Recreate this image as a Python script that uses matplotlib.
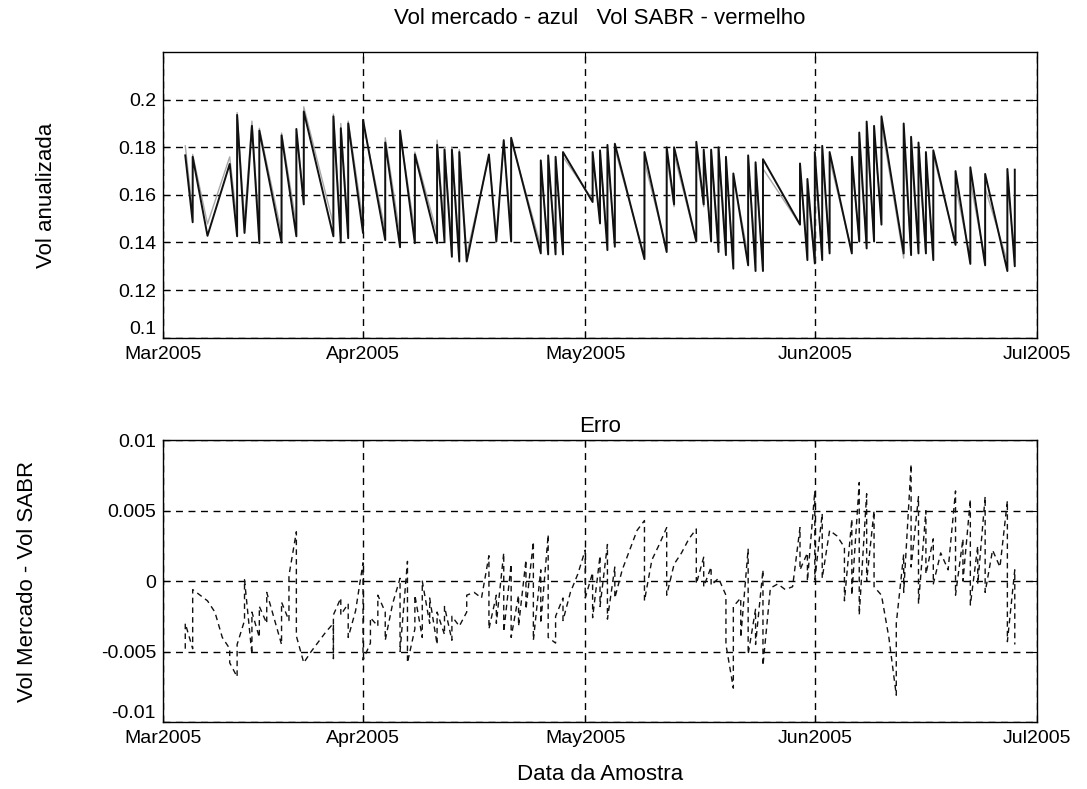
import matplotlib
matplotlib.use("Agg")
import matplotlib.pyplot as plt
import numpy as np
import pandas as pd

plt.rcParams['font.family'] = ['Liberation Sans', 'DejaVu Sans']

# dias contados a partir de 01/03/2005
top_days = [7, 8, 8, 10, 13, 14, 14, 15, 16, 17, 17, 20, 20, 22, 22, 23, 23, 27, 27, 28,
            28, 29, 29, 31, 31, 34, 34, 36, 36, 38, 38, 41, 41, 42, 42, 43, 43, 44, 44, 45,
            48, 49, 50, 51, 51, 55, 55, 56, 56, 57, 57, 58, 58, 62, 62, 63, 63, 64, 64, 65,
            65, 69, 69, 72, 72, 73, 73, 76, 76, 77, 77, 78, 78, 79, 79, 80, 80, 81, 81, 83,
            83, 84, 84, 85, 85, 90, 90, 91, 91, 92, 92, 93, 93, 94, 94, 97, 97, 98, 98, 99,
            99, 100, 100, 101, 101, 104, 104, 105, 105, 106, 106, 107, 107, 108, 108, 111, 111, 113, 113, 115,
            115, 118, 118, 119, 119]
vol_mkt = [0.1766, 0.1485, 0.1760, 0.1428, 0.1730, 0.1426, 0.1936, 0.1440, 0.1890, 0.1397,
           0.1870, 0.1400, 0.1850, 0.1426, 0.1877, 0.1560, 0.1950, 0.1426, 0.1930, 0.1400,
           0.1880, 0.1418, 0.1900, 0.1440, 0.1915, 0.1410, 0.1820, 0.1380, 0.1870, 0.1397,
           0.1770, 0.1397, 0.1810, 0.1404, 0.1790, 0.1340, 0.1790, 0.1320, 0.1780, 0.1320,
           0.1770, 0.1404, 0.1830, 0.1404, 0.1840, 0.1354, 0.1745, 0.1350, 0.1766, 0.1350,
           0.1760, 0.1350, 0.1780, 0.1570, 0.1780, 0.1480, 0.1787, 0.1368, 0.1810, 0.1382,
           0.1815, 0.1330, 0.1780, 0.1360, 0.1800, 0.1560, 0.1800, 0.1404, 0.1823, 0.1560,
           0.1790, 0.1404, 0.1790, 0.1360, 0.1800, 0.1347, 0.1760, 0.1290, 0.1690, 0.1304,
           0.1766, 0.1280, 0.1737, 0.1280, 0.1750, 0.1475, 0.1732, 0.1326, 0.1667, 0.1312,
           0.1780, 0.1326, 0.1806, 0.1354, 0.1780, 0.1354, 0.1760, 0.1404, 0.1862, 0.1375,
           0.1908, 0.1404, 0.1890, 0.1475, 0.1930, 0.1354, 0.1900, 0.1347, 0.1844, 0.1354,
           0.1820, 0.1354, 0.1780, 0.1326, 0.1787, 0.1390, 0.1700, 0.1310, 0.1716, 0.1304,
           0.1688, 0.1280, 0.1709, 0.1300, 0.1706]
# diferenca mercado - SABR em cada vertice do grafico de cima
dif_top = [-0.004, -0.004, -0.001, -0.005, -0.003, -0.006, -0.001, -0.005, -0.002, -0.004,
           -0.001, -0.004, -0.001, -0.005, 0.003, -0.004, -0.002, -0.005, -0.001, -0.003,
           -0.002, -0.004, -0.001, -0.005, 0.001, -0.004, -0.002, -0.005, 0.001, -0.005,
           -0.001, -0.004, -0.002, -0.004, -0.001, -0.003, -0.001, -0.004, -0.001, -0.003,
           0.001, -0.003, 0.002, -0.004, 0.001, -0.003, 0.003, -0.004, 0.002, -0.003,
           0.001, -0.002, 0.002, -0.001, 0.002, -0.002, 0.002, -0.003, 0.003, -0.001,
           0.002, -0.001, 0.004, -0.001, 0.004, 0.001, 0.003, 0.000, 0.004, 0.001,
           0.002, -0.001, 0.001, -0.004, 0.000, -0.006, 0.002, -0.003, 0.001, -0.004,
           0.002, -0.006, 0.001, -0.002, 0.004, 0.000, 0.002, -0.001, 0.006, -0.001,
           0.005, -0.001, 0.004, -0.002, 0.003, -0.001, 0.004, -0.002, 0.007, -0.002,
           0.006, -0.001, 0.005, -0.004, 0.003, 0.002, 0.008, -0.001, 0.006, -0.002,
           0.005, 0.000, 0.003, -0.001, 0.002, -0.001, 0.006, -0.002, 0.006, -0.002,
           0.006, -0.004, 0.006, -0.004, 0.005]
vol_sabr = np.array(vol_mkt) - np.array(dif_top)

err_days = [7, 7, 8, 8, 10, 11, 12, 13, 13, 14, 14, 15, 15, 16, 16, 17, 17, 18, 18, 20,
            20, 21, 21, 22, 22, 23, 24, 25, 26, 27, 27, 27, 28, 28, 29, 29, 30, 31, 31, 32,
            32, 33, 33, 34, 34, 35, 36, 36, 37, 37, 38, 38, 39, 39, 40, 40, 41, 41, 42, 42,
            43, 43, 44, 45, 45, 46, 47, 48, 48, 49, 49, 50, 50, 51, 51, 52, 52, 53, 53, 54,
            54, 55, 55, 56, 56, 57, 57, 58, 58, 59, 60, 61, 61, 62, 62, 63, 63, 64, 64, 65,
            65, 66, 67, 68, 69, 69, 70, 71, 72, 72, 73, 74, 75, 76, 76, 77, 77, 78, 78, 79,
            80, 80, 81, 81, 82, 82, 83, 83, 84, 84, 85, 85, 86, 87, 88, 89, 90, 90, 91, 91,
            92, 92, 93, 93, 94, 95, 96, 96, 97, 97, 98, 98, 99, 99, 100, 100, 101, 102, 103, 103,
            104, 104, 105, 105, 106, 106, 107, 107, 108, 108, 109, 110, 111, 111, 112, 112, 113, 113, 114, 114,
            115, 115, 116, 117, 118, 118, 119, 119]
err_vals = [-0.0048, -0.0030, -0.0048, -0.0006, -0.0014, -0.0022, -0.0040, -0.0048, -0.0058, -0.0068,
            -0.0045, -0.0028, 0.0001, -0.0052, -0.0022, -0.0040, -0.0018, -0.0030, -0.0008, -0.0045,
            -0.0015, -0.0028, 0.0004, 0.0035, -0.0039, -0.0058, -0.0050, -0.0043, -0.0036, -0.0030,
            -0.0055, -0.0024, -0.0012, -0.0024, -0.0016, -0.0040, -0.0021, 0.0013, -0.0056, -0.0044,
            -0.0026, -0.0032, -0.0010, -0.0022, -0.0042, -0.0016, 0.0002, -0.0050, 0.0014, -0.0058,
            -0.0034, -0.0010, -0.0040, 0.0000, -0.0030, -0.0012, -0.0045, -0.0022, -0.0038, -0.0018,
            -0.0042, -0.0025, -0.0032, -0.0022, -0.0010, -0.0008, -0.0012, 0.0018, -0.0034, -0.0010,
            -0.0030, 0.0020, -0.0036, 0.0012, -0.0040, -0.0010, -0.0032, 0.0015, -0.0020, 0.0028,
            -0.0042, 0.0008, -0.0030, 0.0033, -0.0040, -0.0044, -0.0025, -0.0012, -0.0028, -0.0008,
            0.0005, 0.0022, -0.0012, 0.0006, -0.0026, 0.0018, -0.0018, 0.0026, -0.0027, 0.0010,
            -0.0012, 0.0008, 0.0022, 0.0036, 0.0043, -0.0014, 0.0015, 0.0026, 0.0038, -0.0010,
            0.0012, 0.0020, 0.0030, 0.0037, -0.0002, 0.0017, -0.0004, 0.0010, -0.0003, 0.0002,
            -0.0010, -0.0045, -0.0076, -0.0018, -0.0012, -0.0040, 0.0023, -0.0052, -0.0020, -0.0045,
            0.0008, -0.0060, -0.0005, -0.0002, -0.0006, -0.0004, 0.0038, 0.0008, 0.0020, 0.0000,
            0.0064, 0.0001, 0.0048, 0.0002, 0.0036, 0.0032, 0.0024, -0.0014, 0.0044, -0.0010,
            0.0070, -0.0024, 0.0062, 0.0000, 0.0050, -0.0004, -0.0010, -0.0040, -0.0081, -0.0030,
            0.0019, -0.0008, 0.0083, 0.0010, 0.0060, -0.0016, 0.0050, 0.0005, 0.0030, -0.0002,
            0.0020, 0.0008, 0.0064, -0.0010, 0.0030, 0.0000, 0.0058, -0.0017, 0.0025, -0.0002,
            0.0060, -0.0008, 0.0022, 0.0010, 0.0057, -0.0043, 0.0008, -0.0045]

xtick_dates = ['2005-03-05', '2005-04-01', '2005-05-01', '2005-06-01', '2005-07-01']
xtick_labels = ['Mar2005', 'Apr2005', 'May2005', 'Jun2005', 'Jul2005']
top_yticks = [0.1, 0.12, 0.14, 0.16, 0.18, 0.2]
top_ylabels = ['0.1', '0.12', '0.14', '0.16', '0.18', '0.2']
bot_yticks = [-0.01, -0.005, 0, 0.005, 0.01]
bot_ylabels = ['-0.01', '-0.005', '0', '0.005', '0.01']

base = pd.Timestamp('2005-03-01')
t_top = base + pd.to_timedelta(top_days, unit='D')
t_err = base + pd.to_timedelta(err_days, unit='D')
xt = pd.to_datetime(xtick_dates)

fig = plt.figure(figsize=(10.87, 7.89), dpi=100)
ax1 = fig.add_axes([0.150, 0.572, 0.804, 0.362])
ax2 = fig.add_axes([0.150, 0.085, 0.804, 0.357])

ax1.plot(t_top, vol_sabr, color='#a8a8a8', lw=1.0)
ax1.plot(t_top, vol_mkt, color='#111111', lw=1.4)
ax2.plot(t_err, err_vals, color='#111111', lw=1.0, linestyle=(0, (4, 3)))

grid_ls = (0, (5, 4))
for ax in (ax1, ax2):
    ax.set_xlim(xt[0], xt[-1])
    ax.set_xticks(xt)
    ax.set_xticklabels(xtick_labels)
    ax.grid(True, color='black', linestyle=grid_ls, lw=1.0)
    ax.tick_params(direction='in', length=5, labelsize=14, top=True, right=True)
    ax.tick_params(axis='x', pad=6)
    ax.tick_params(axis='y', pad=5)
    for s in ax.spines.values():
        s.set_linewidth(1.0)

ax1.set_ylim(0.1, 0.22)
ax1.set_yticks(top_yticks)
ax1.set_yticklabels(top_ylabels)
ax1.set_ylabel('Vol anualizada', fontsize=16)
ax1.yaxis.set_label_coords(-0.121, 0.5)
ax1.set_title('Vol mercado - azul   Vol SABR - vermelho', fontsize=16, pad=20)

ax2.set_ylim(-0.01, 0.01)
ax2.set_yticks(bot_yticks)
ax2.set_yticklabels(bot_ylabels)
ax2.set_ylabel('Vol Mercado - Vol SABR', fontsize=16)
ax2.yaxis.set_label_coords(-0.143, 0.5)
ax2.set_title('Erro', fontsize=16, pad=6)
ax2.set_xlabel('Data da Amostra', fontsize=16)
ax2.xaxis.set_label_coords(0.5, -0.15)

# o rotulo mais baixo do eixo y fica acima da linha do eixo, como no original
for ax in (ax1, ax2):
    ax.get_yticklabels()[0].set_verticalalignment('bottom')

fig.savefig('out.png', dpi=100)
